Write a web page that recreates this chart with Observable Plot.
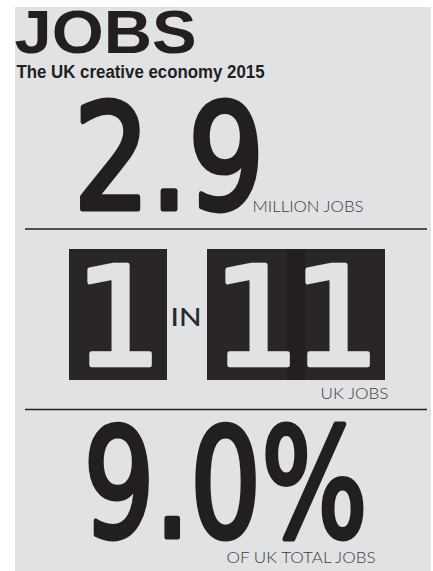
<!DOCTYPE html>
<html>
<head>
<meta charset="utf-8">
<script src="https://cdn.jsdelivr.net/npm/d3@7"></script>
<script src="https://cdn.jsdelivr.net/npm/@observablehq/plot@0.6"></script>
<style>
  html, body { margin: 0; padding: 0; background: #ffffff; }
  #chart svg { display: block; }
</style>
</head>
<body>
<div id="chart"></div>
<script>
// ---------- DATA ----------
const headline = ["JOBS"];
const subtitle = ["The UK creative economy 2015"];
const statValues = ["2.9", "9.0%"];
const statLabels = ["MILLION JOBS", "UK JOBS", "OF UK TOTAL JOBS"];
const ratioNumerator = ["1"];
const ratioDenominator = ["1", "1"];   // "11"
const ratioJoiner = ["IN"];

// ---------- LAYOUT & STYLE (kept apart from data) ----------
const W = 433, H = 571;
const ink = "#231f20";
const paper = "#e1e2e4";
const labelInk = "#3c3c3c";
const L = {
  panel: {x1: 15, x2: 431, y1: 7, y2: 571},
  headline: {x: 14, y: 52.5, size: 62, len: 182},
  subtitle: {x: 16, y: 77, size: 18, len: 248},
  stat: [
    {x: 73, y: 208.5, size: 146, len: 191},
    {x: 83, y: 536.5, size: 151, len: 284}
  ],
  label: [
    {x: 252, y: 211.5, size: 15, len: 111},
    {x: 320, y: 398, size: 15, len: 68},
    {x: 226, y: 562, size: 16, len: 149}
  ],
  rules: [228.5, 409],
  ruleX: [25, 427],
  box: {y1: 249, y2: 380, w: 98, starts: [69, 207, 287]},
  digit: {y: 364.5, size: 138},
  joiner: {x: 170, y: 325, size: 25, len: 31}
};

// Build tables for the marks from the data arrays + layout
const boxes = [
  ...ratioNumerator.map((d, i) => ({digit: d, part: "numerator", i})),
  ...ratioDenominator.map((d, i) => ({digit: d, part: "denominator", i}))
].map((d, k) => ({...d, x1: L.box.starts[k], x2: L.box.starts[k] + L.box.w}));

const statTable = statValues.map((v, i) => ({text: v, ...L.stat[i]}));
const labelTable = statLabels.map((v, i) => ({text: v, ...L.label[i]}));
const headTable = [{text: headline[0], ...L.headline}];
const subTable = [{text: subtitle[0], ...L.subtitle}];
const joinTable = [{text: ratioJoiner[0], ...L.joiner}];
const ruleTable = L.rules.map(y => ({y, x1: L.ruleX[0], x2: L.ruleX[1]}));

const plot = Plot.plot({
  width: W,
  height: H,
  margin: 0,
  x: {type: "identity", axis: null},
  y: {type: "identity", axis: null},
  style: {background: "#ffffff", overflow: "visible"},
  marks: [
    Plot.rect([L.panel], {x1: "x1", x2: "x2", y1: "y1", y2: "y2", fill: paper}),
    // headline + subtitle
    Plot.text(headTable, {x: "x", y: "y", text: "text", fontSize: "size", textAnchor: "start", lineAnchor: "bottom",
      fill: ink, fontFamily: "Liberation Sans, Arial, sans-serif", fontWeight: "bold"}),
    Plot.text(subTable, {x: "x", y: "y", text: "text", fontSize: "size", textAnchor: "start", lineAnchor: "bottom",
      fill: ink, fontFamily: "Liberation Sans, Arial, sans-serif", fontWeight: "bold"}),
    // big figures
    Plot.text(statTable, {x: "x", y: "y", text: "text", fontSize: "size", textAnchor: "start", lineAnchor: "bottom",
      fill: ink, stroke: ink, strokeWidth: 5, strokeLinejoin: "round", strokeLinecap: "round",
      fontFamily: "DejaVu Sans Condensed, DejaVu Sans, sans-serif", fontWeight: "normal"}),
    // rules
    Plot.ruleY(ruleTable, {y: "y", x1: "x1", x2: "x2", stroke: ink, strokeWidth: 1.3}),
    // ratio boxes
    Plot.rect(boxes, {x1: "x1", x2: "x2", y1: L.box.y1, y2: L.box.y2, fill: ink, fillOpacity: 0.965}),
    Plot.text(boxes, {x: d => (d.x1 + d.x2) / 2, y: L.digit.y, text: "digit", fontSize: L.digit.size,
      lineAnchor: "bottom", textAnchor: "middle", fill: paper, stroke: paper, strokeWidth: 4.5, strokeLinejoin: "round",
      fontFamily: "DejaVu Sans, sans-serif"}),
    Plot.text(joinTable, {x: "x", y: "y", text: "text", fontSize: "size", textAnchor: "start", lineAnchor: "bottom",
      fill: "#2a2a2a", fontFamily: "Lato, Open Sans, sans-serif", fontWeight: 500}),
    // labels
    Plot.text(labelTable, {x: "x", y: "y", text: "text", fontSize: "size", textAnchor: "start", lineAnchor: "bottom",
      fill: labelInk, fontFamily: "Lato, Open Sans, sans-serif", fontWeight: 300})
  ]
});

// fit the widths of the typeset strings to the original lettering
const fit = new Map([...headTable, ...subTable, ...statTable, ...labelTable, ...joinTable].map(d => [d.text, d.len]));
d3.select(plot).selectAll("text").each(function () {
  const t = this.textContent;
  if (fit.has(t)) {
    this.setAttribute("textLength", fit.get(t));
    this.setAttribute("lengthAdjust", "spacingAndGlyphs");
  }
});

document.getElementById("chart").appendChild(plot);
</script>
</body>
</html>
